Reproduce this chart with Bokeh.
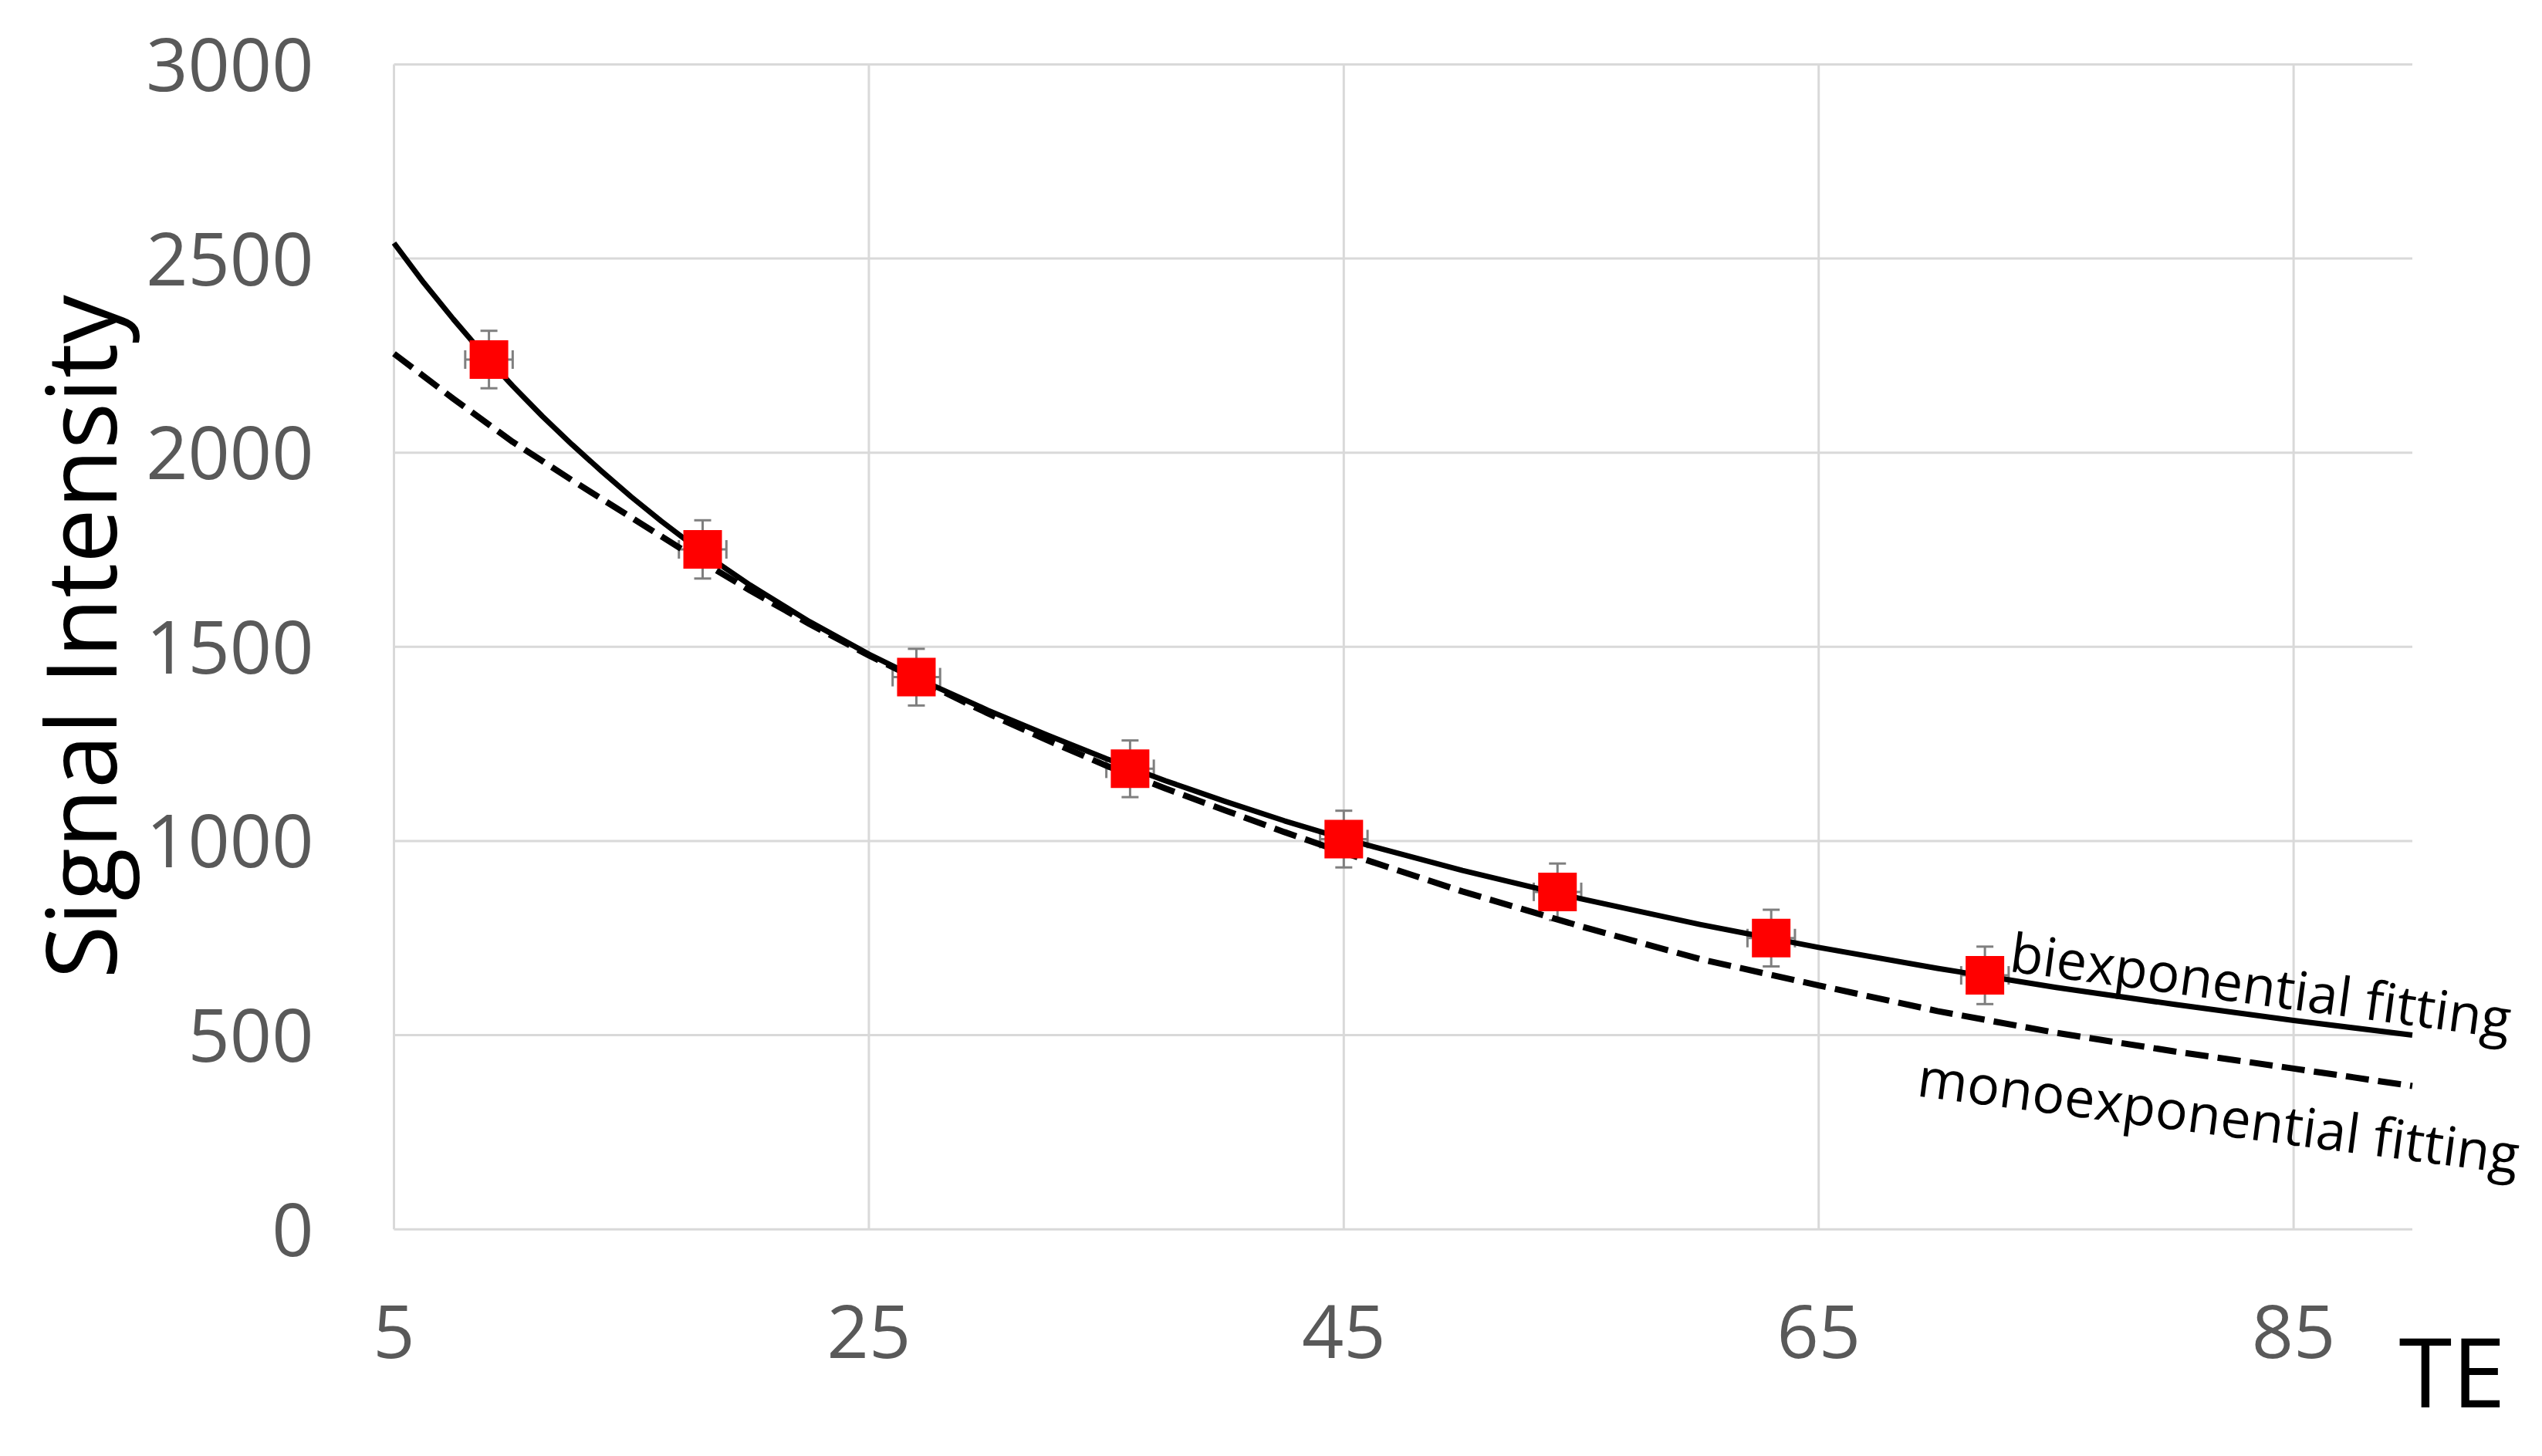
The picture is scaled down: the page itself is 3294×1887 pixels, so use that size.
from bokeh.plotting import figure
from bokeh.models import Range1d, FixedTicker, Label
from bokeh.embed import file_html
from bokeh.resources import INLINE

# measured data points (TE, signal intensity) with error bars
te = [9, 18, 27, 36, 45, 54, 63, 72]
signal = [2240, 1751, 1422, 1186, 1005, 869, 750, 654]
signal_err = [74, 75, 73, 73, 73, 73, 73, 74]
te_err = [1, 1, 1, 1, 1, 1, 1, 1]

# fitted curves
bi_te = [5, 6.25, 7.5, 8.75, 10, 11.25, 12.5, 13.75, 15, 16.25, 17.5, 18.75,
         20, 22.5, 25, 27.5, 30, 32.5, 35, 37.5, 40, 42.5, 45, 50, 55, 60,
         65, 70, 75, 80, 85, 90]
bi_fit = [2540, 2438, 2344, 2255, 2172, 2094, 2021, 1952, 1886, 1824, 1766,
          1711, 1659, 1565, 1481, 1406, 1337, 1273, 1212, 1155, 1102, 1052,
          1006, 924, 851, 785, 726, 672, 623, 579, 538, 500]
mono_te = [5, 7.5, 10, 12.5, 15, 17.5, 20, 22.5, 25, 27.5, 30, 32.5, 35, 37.5,
           40, 42.5, 45, 50, 55, 60, 65, 70, 75, 80, 85, 90]
mono_fit = [2255, 2139, 2028, 1929, 1833, 1737, 1645, 1559, 1478, 1403, 1329,
            1260, 1194, 1135, 1079, 1023, 970, 870, 780, 696, 628, 562, 506,
            458, 414, 369]

x_ticks = [5, 25, 45, 65, 85]
y_ticks = [0, 500, 1000, 1500, 2000, 2500, 3000]
x_min, x_max = 5, 90
y_min, y_max = 0, 3000

FONT = "Open Sans"
GRID = "#d9d9d9"

p = figure(frame_width=3278, frame_height=1871,
           x_range=Range1d(-11.575, 94.957), y_range=Range1d(-553.06, 3164.94),
           output_backend="svg", toolbar_location=None,
           min_border_left=0, min_border_right=0,
           min_border_top=0, min_border_bottom=0)
p.outline_line_color = None
p.background_fill_color = "white"
p.border_fill_color = "white"
p.xgrid.visible = False
p.ygrid.visible = False

p.xaxis.ticker = FixedTicker(ticks=x_ticks)
p.yaxis.ticker = FixedTicker(ticks=y_ticks)
p.xaxis.fixed_location = y_min
p.yaxis.fixed_location = x_min
for ax in (p.xaxis, p.yaxis):
    ax.axis_line_color = None
    ax.major_tick_line_color = None
    ax.minor_tick_line_color = None
    ax.major_label_text_font = FONT
    ax.major_label_text_font_size = "95px"
    ax.major_label_text_color = "#595959"
p.yaxis.major_label_standoff = 98
p.xaxis.major_label_standoff = 92

# grid lines (drawn from the tick lists, limited to the plot area)
p.segment(x0=x_ticks, y0=[y_min] * len(x_ticks), x1=x_ticks,
          y1=[y_max] * len(x_ticks), line_color=GRID, line_width=3)
p.segment(x0=[x_min] * len(y_ticks), y0=y_ticks, x1=[x_max] * len(y_ticks),
          y1=y_ticks, line_color=GRID, line_width=3)

# error bars
lo = [s - e for s, e in zip(signal, signal_err)]
hi = [s + e for s, e in zip(signal, signal_err)]
xl = [t - e for t, e in zip(te, te_err)]
xh = [t + e for t, e in zip(te, te_err)]
EB = "#7f7f7f"
p.segment(x0=te, y0=lo, x1=te, y1=hi, line_color=EB, line_width=3)
p.segment(x0=xl, y0=signal, x1=xh, y1=signal, line_color=EB, line_width=3)
p.scatter(x=te + te, y=lo + hi, marker="dash", size=22, line_color=EB, line_width=3)
p.scatter(x=xl + xh, y=signal + signal, marker="dash", size=24, angle=1.5708,
          line_color=EB, line_width=3)

# fitted curves
p.line(bi_te, bi_fit, line_color="black", line_width=7, line_join="round")
p.line(mono_te, mono_fit, line_color="black", line_width=8, line_dash="30 12")

# data markers
p.scatter(x=te, y=signal, marker="square", size=50, fill_color="#ff0000",
          line_color=None)

# texts
p.add_layout(Label(x=-8.29, y=1526, text="Signal Intensity", angle=1.5708,
                   text_font=FONT, text_font_size="126px", text_color="black",
                   text_align="center", text_baseline="middle"))
p.add_layout(Label(x=73.1, y=718, text="biexponential fitting", angle=-0.134,
                   text_font=FONT, text_font_size="70px", text_color="black",
                   text_align="left", text_baseline="alphabetic"))
p.add_layout(Label(x=69.2, y=397, text="monoexponential fitting", angle=-0.13,
                   text_font=FONT, text_font_size="70px", text_color="black",
                   text_align="left", text_baseline="alphabetic"))
p.add_layout(Label(x=89.43, y=-363, text="TE", text_font=FONT,
                   text_font_size="125px", text_color="black",
                   text_align="left", text_baseline="middle"))

open("out.html", "w").write(file_html(p, INLINE))
